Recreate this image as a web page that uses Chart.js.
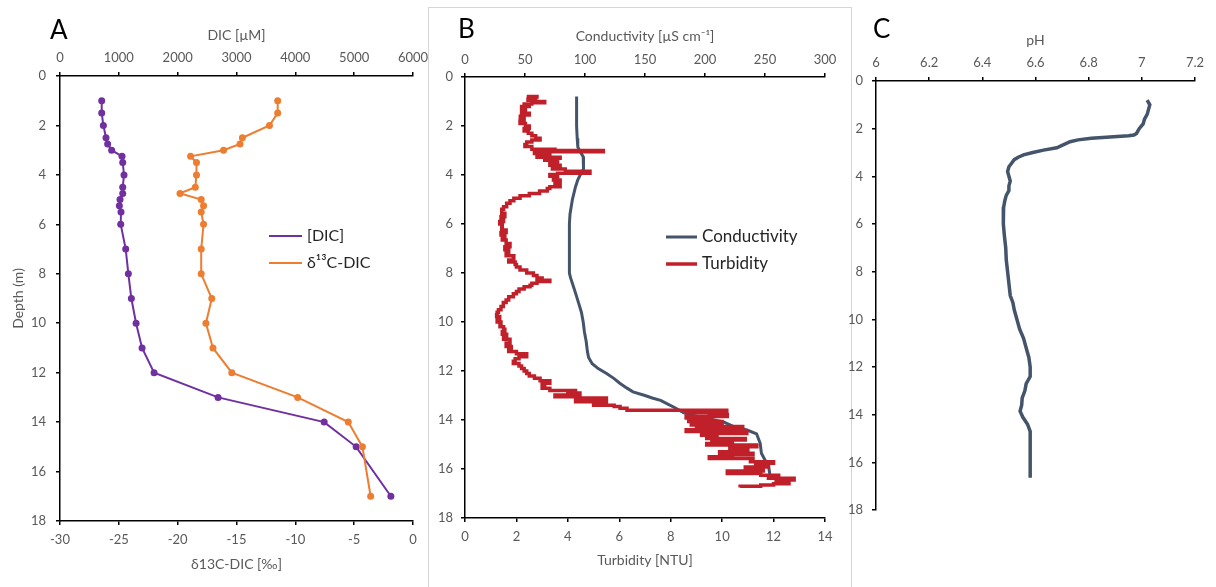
<!DOCTYPE html>
<html>
<head>
<meta charset="utf-8">
<script src="https://cdn.jsdelivr.net/npm/chart.js@4.4.1/dist/chart.umd.min.js"></script>
<style>
  html, body { margin: 0; padding: 0; background: #fff; }
  body { width: 1216px; height: 587px; position: relative; overflow: hidden; }
  canvas { position: absolute; left: 0; top: 0; }
  #boxB { position: absolute; left: 428px; top: 7px; width: 424px; height: 600px;
          border: 1px solid #d6d6d6; box-sizing: border-box; }
</style>
</head>
<body>
<div id="boxB"></div>
<canvas id="chartA" width="1216" height="587"></canvas>
<canvas id="chartB" width="1216" height="587"></canvas>
<canvas id="chartC" width="1216" height="587"></canvas>
<script>
// ---------------- data ----------------
// panel A : discrete samples
const depthA = [1, 1.5, 2, 2.5, 2.75, 3, 3.25, 3.5, 4, 4.5, 4.75, 5, 5.25, 5.5, 6, 7, 8, 9, 10, 11, 12, 13, 14, 15, 17];
const dicA = [709, 709, 737, 782, 810, 878, 1054, 1066, 1088, 1066, 1066, 1020, 1009, 1037, 1032,
              1117, 1162, 1213, 1293, 1395, 1599, 2687, 4490, 5034, 5624];
const d13cA = [-11.5, -11.5, -12.2, -14.5, -14.7, -16.1, -18.9, -18.4, -18.4, -18.5, -19.8, -18.0, -17.8,
               -18.0, -17.8, -18.0, -18.0, -17.1, -17.6, -17.0, -15.4, -9.8, -5.5, -4.3, -3.6];

// panel B : probe profiles
const depthCond = [0.8, 1.5, 2.0, 2.5, 2.85, 3.05, 3.25, 3.5, 3.75, 4.0, 4.2, 4.5, 4.8, 5.0, 5.3, 5.6, 6.0,
                   7.0, 8.0, 8.2, 8.5, 8.8, 9.2, 9.6, 10.0, 10.4, 10.8, 11.2, 11.45, 11.7, 11.9, 12.1, 12.3,
                   12.5, 12.7, 12.85, 13.0, 13.1, 13.2, 13.35, 13.5, 13.7, 13.89, 14.07, 14.27, 14.41, 14.57,
                   14.95, 15.36, 15.63, 15.9, 16.2];
const cond = [93, 93, 93, 93.5, 94, 96, 98.5, 99, 98.5, 96, 94, 92, 90.5, 89.5, 88.5, 87.5, 87,
              87, 87, 88, 90, 92, 94.5, 97, 98.5, 99.5, 101, 102, 103, 106, 111, 118, 124,
              129, 135, 140, 150, 156, 163, 169, 175, 182, 196, 215, 224, 235, 243,
              246, 247, 250, 253, 254];

const depthTurb = [0.8, 0.82, 0.85, 0.9, 0.95, 1.0, 1.05, 1.1, 1.15, 1.2, 1.3, 1.4, 1.48, 1.55, 1.6, 1.7,
                   1.8, 1.9, 2.0, 2.1, 2.2, 2.3, 2.4, 2.5, 2.57, 2.65, 2.75, 2.84, 2.95, 3.0, 3.05, 3.08,
                   3.12, 3.2, 3.28, 3.32, 3.4, 3.5, 3.6, 3.66, 3.75, 3.85, 3.93, 3.98, 4.05, 4.1, 4.2,
                   4.3, 4.4, 4.48, 4.55, 4.65, 4.75, 4.85, 4.95, 5.05, 5.15, 5.3, 5.4, 5.56, 5.7, 5.8,
                   5.9, 6.0, 6.1, 6.24, 6.35, 6.45, 6.55, 6.65, 6.8, 6.93, 7.05, 7.15, 7.3, 7.4, 7.47,
                   7.55, 7.65, 7.75, 7.88, 8.0, 8.1, 8.2, 8.3, 8.35, 8.42, 8.5, 8.56, 8.65, 8.75, 8.85,
                   8.97, 9.1, 9.2, 9.37, 9.5, 9.6, 9.7, 9.78, 9.9, 10.0, 10.1, 10.19, 10.3, 10.4, 10.5,
                   10.6, 10.7, 10.86, 11.0, 11.1, 11.2, 11.3, 11.42, 11.5, 11.6, 11.69, 11.8, 11.9, 12.0,
                   12.1, 12.2, 12.3, 12.4, 12.5, 12.55, 12.6, 12.7, 12.8, 12.84, 12.9, 12.98, 13.05, 13.1,
                   13.18, 13.25, 13.32, 13.4, 13.45, 13.52, 13.6, 13.66, 13.7, 13.78, 13.86, 13.92, 14.0,
                   14.06, 14.13, 14.2, 14.27, 14.34, 14.4, 14.47, 14.55, 14.62, 14.7, 14.75, 14.82, 14.9,
                   14.96, 15.02, 15.09, 15.15, 15.22, 15.3, 15.36, 15.42, 15.5, 15.57, 15.63, 15.7, 15.77,
                   15.85, 15.92, 16.0, 16.08, 16.18, 16.25, 16.3, 16.38, 16.45, 16.52, 16.6, 16.65, 16.7, 16.75];
const turb = [2.4, 2.8, 2.5, 2.7, 2.45, 2.75, 3.1, 2.6, 2.3, 2.5, 2.2, 2.35, 2.2, 2.5, 2.3, 2.15,
              2.3, 2.14, 2.35, 2.5, 2.3, 2.46, 2.6, 2.75, 2.92, 2.6, 2.4, 2.33, 2.6, 3.5, 5.38, 3.0,
              2.7, 3.3, 2.8, 3.7, 3.1, 3.6, 3.3, 3.7, 3.4, 3.9, 4.86, 3.6, 3.3, 3.6, 3.44,
              3.7, 3.5, 3.7, 3.3, 3.2, 2.9, 2.5, 2.14, 1.9, 1.75, 1.62, 1.5, 1.43, 1.55, 1.4,
              1.5, 1.35, 1.45, 1.43, 1.6, 1.4, 1.55, 1.45, 1.6, 1.75, 1.55, 1.7, 1.6, 1.9, 1.88,
              1.7, 1.95, 2.0, 2.14, 2.4, 2.66, 2.8, 3.0, 3.3, 2.8, 2.6, 2.53, 2.3, 2.1, 2.0,
              1.88, 1.7, 1.6, 1.49, 1.4, 1.3, 1.25, 1.23, 1.35, 1.25, 1.4, 1.36, 1.5, 1.55, 1.45,
              1.62, 1.5, 1.75, 1.6, 1.8, 1.7, 2.0, 2.4, 2.1, 1.95, 1.88, 2.1, 2.2, 2.3,
              2.4, 2.5, 2.7, 2.92, 3.3, 3.0, 3.1, 3.0, 3.3, 4.3, 4.0, 4.47, 3.5, 4.4,
              5.5, 4.3, 5.5, 5.0, 5.8, 6.03, 6.3, 10.18, 8.6, 9.5, 10.2, 8.6, 9.6,
              8.7, 10.0, 8.8, 9.8, 10.8, 9.0, 8.6, 10.96, 9.2, 9.8, 9.4, 10.9, 9.6,
              10.4, 9.4, 11.35, 10.3, 11.0, 10.6, 9.9, 11.2, 10.4, 9.5, 11.2, 11.1, 12.0,
              11.3, 11.8, 10.9, 11.6, 10.2, 11.5, 12.2, 11.8, 12.8, 12.1, 12.6, 12.0, 11.5, 10.7];

// panel C : pH profile
const depthPH = [0.8, 1.0, 1.2, 1.4, 1.6, 1.8, 2.0, 2.2, 2.27, 2.3, 2.35, 2.4, 2.47, 2.55, 2.65, 2.8, 2.9,
                 3.0, 3.1, 3.2, 3.3, 3.45, 3.6, 3.8, 4.0, 4.2, 4.4, 4.6, 4.8, 5.0, 5.3, 5.6, 6.0, 6.5,
                 7.0, 7.5, 8.0, 8.5, 9.0, 9.3, 9.6, 10.0, 10.4, 10.8, 11.2, 11.6, 12.0, 12.4, 12.7, 13.0,
                 13.3, 13.6, 13.85, 14.1, 14.4, 14.7, 15.0, 15.5, 16.0, 16.4, 16.65];
const ph = [7.02, 7.03, 7.025, 7.02, 7.01, 7.005, 6.99, 6.98, 6.97, 6.95, 6.88, 6.81, 6.76, 6.73, 6.71, 6.68, 6.63,
            6.59, 6.555, 6.535, 6.52, 6.51, 6.50, 6.495, 6.50, 6.505, 6.50, 6.50, 6.49, 6.485, 6.48, 6.478, 6.48, 6.483,
            6.488, 6.49, 6.495, 6.50, 6.505, 6.515, 6.52, 6.53, 6.54, 6.555, 6.565, 6.575, 6.58, 6.58, 6.565, 6.56,
            6.55, 6.548, 6.542, 6.552, 6.57, 6.58, 6.58, 6.58, 6.58, 6.58, 6.58];

// tick labels
const depthTicks = [0, 2, 4, 6, 8, 10, 12, 14, 16, 18];
const dicTicks = [0, 1000, 2000, 3000, 4000, 5000, 6000];
const d13cTicks = [-30, -25, -20, -15, -10, -5, 0];
const condTicks = [0, 50, 100, 150, 200, 250, 300];
const turbTicks = [0, 2, 4, 6, 8, 10, 12, 14];
const phTicks = [6, 6.2, 6.4, 6.6, 6.8, 7, 7.2];

// ---------------- helpers ----------------
Chart.defaults.font.family = 'Lato';
const GREY = '#595959';

function pts(xs, ys) {
  return xs.map((x, i) => ({ x: x, y: ys[i] }));
}

// one axis; size = forced box thickness, pad = tick label gap, title = [text, padTop, padBottom]
function axis(pos, min, max, ticks, size, pad, title) {
  const o = {
    type: 'linear', position: pos, min: min, max: max,
    border: { color: '#000', width: 1.5 },
    grid: { drawOnChartArea: false, color: '#000', lineWidth: 1.5, tickLength: 4 },
    ticks: { color: GREY, font: { size: 13 }, padding: pad, callback: v => String(v) },
    afterBuildTicks: s => { s.ticks = ticks.map(v => ({ value: v })); },
    afterFit: s => { if (pos === 'left') s.width = size; else s.height = size; }
  };
  if (pos === 'left') o.reverse = true;
  if (title) {
    o.title = { display: true, text: title[0], color: GREY, font: { size: 14 },
                padding: { top: title[1], bottom: title[2] } };
  }
  return o;
}

// panel letter and in-plot legend
function overlay(letter, lx, ly, leg) {
  return {
    id: 'overlay' + letter,
    afterDraw(chart) {
      const ctx = chart.ctx;
      ctx.save();
      ctx.fillStyle = '#000';
      ctx.font = '26px Lato';
      ctx.textBaseline = 'alphabetic';
      ctx.fillText(letter, lx, ly);
      if (leg) {
        ctx.font = leg.size + 'px Lato';
        ctx.textBaseline = 'middle';
        chart.data.datasets.forEach((ds, i) => {
          const y = leg.y + i * leg.dy;
          ctx.strokeStyle = ds.borderColor;
          ctx.lineWidth = ds.borderWidth;
          ctx.beginPath();
          ctx.moveTo(leg.x, y);
          ctx.lineTo(leg.x + leg.len, y);
          ctx.stroke();
          ctx.fillStyle = '#262626';
          ctx.fillText(ds.label, leg.x + leg.len + 5, y);
        });
      }
      ctx.restore();
    }
  };
}

const base = { responsive: false, animation: false, plugins: { legend: { display: false }, tooltip: { enabled: false } } };

// ---------------- A ----------------
new Chart(document.getElementById('chartA'), {
  type: 'scatter',
  data: {
    datasets: [
      { label: '[DIC]', data: pts(dicA, depthA), xAxisID: 'x2', showLine: true, order: 1,
        borderColor: '#7030A0', backgroundColor: '#7030A0', borderWidth: 2,
        pointRadius: 3.5, pointBorderWidth: 0 },
      { label: 'δ¹³C-DIC', data: pts(d13cA, depthA), xAxisID: 'x', showLine: true, order: 0,
        borderColor: '#ED7D31', backgroundColor: '#ED7D31', borderWidth: 2,
        pointRadius: 3.5, pointBorderWidth: 0 }
    ]
  },
  options: Object.assign({}, base, {
    layout: { padding: { left: 0, top: 0, right: 803, bottom: 0 } },
    scales: {
      x: axis('bottom', -30, 0, d13cTicks, 66, 7, ['δ13C-DIC [‰]', 0, 14]),
      x2: axis('top', 0, 6000, dicTicks, 76, 6, ['DIC [µM]', 26.6, 0]),
      y: axis('left', 0, 18, depthTicks, 60, 10, ['Depth (m)', 9.6, 0])
    }
  }),
  plugins: [overlay('A', 50, 39, { x: 269, y: 236, dy: 27, len: 33, size: 16 })]
});

// ---------------- B ----------------
new Chart(document.getElementById('chartB'), {
  type: 'scatter',
  data: {
    datasets: [
      { label: 'Conductivity', data: pts(cond, depthCond), xAxisID: 'x2', showLine: true, order: 1,
        borderColor: '#44546A', borderWidth: 3, pointRadius: 0 },
      { label: 'Turbidity', data: pts(turb, depthTurb), xAxisID: 'x', showLine: true, order: 0,
        stepped: true, borderColor: '#C0202A', borderWidth: 3.5, pointRadius: 0 }
    ]
  },
  options: Object.assign({}, base, {
    layout: { padding: { left: 420, top: 0, right: 391, bottom: 0 } },
    scales: {
      x: axis('bottom', 0, 14, turbTicks, 69, 7, ['Turbidity [NTU]', 0, 18]),
      x2: axis('top', 0, 300, condTicks, 77, 5, ['Conductivity [µS cm⁻¹]', 27.6, 0]),
      y: axis('left', 0, 18, depthTicks, 45, 8, null)
    }
  }),
  plugins: [overlay('B', 458, 38, { x: 666, y: 237, dy: 27, len: 31, size: 17 })]
});

// ---------------- C ----------------
new Chart(document.getElementById('chartC'), {
  type: 'scatter',
  data: {
    datasets: [
      { label: 'pH', data: pts(ph, depthPH), xAxisID: 'x', showLine: true,
        borderColor: '#44546A', borderWidth: 3.5, pointRadius: 0 }
    ]
  },
  options: Object.assign({}, base, {
    layout: { padding: { left: 836, top: 0, right: 21, bottom: 77 } },
    scales: {
      x: axis('top', 6, 7.2, phTicks, 81, 6, ['pH', 32, 0]),
      y: axis('left', 0, 18, depthTicks, 40, 9, null)
    }
  }),
  plugins: [overlay('C', 873, 38, null)]
});
</script>
</body>
</html>
